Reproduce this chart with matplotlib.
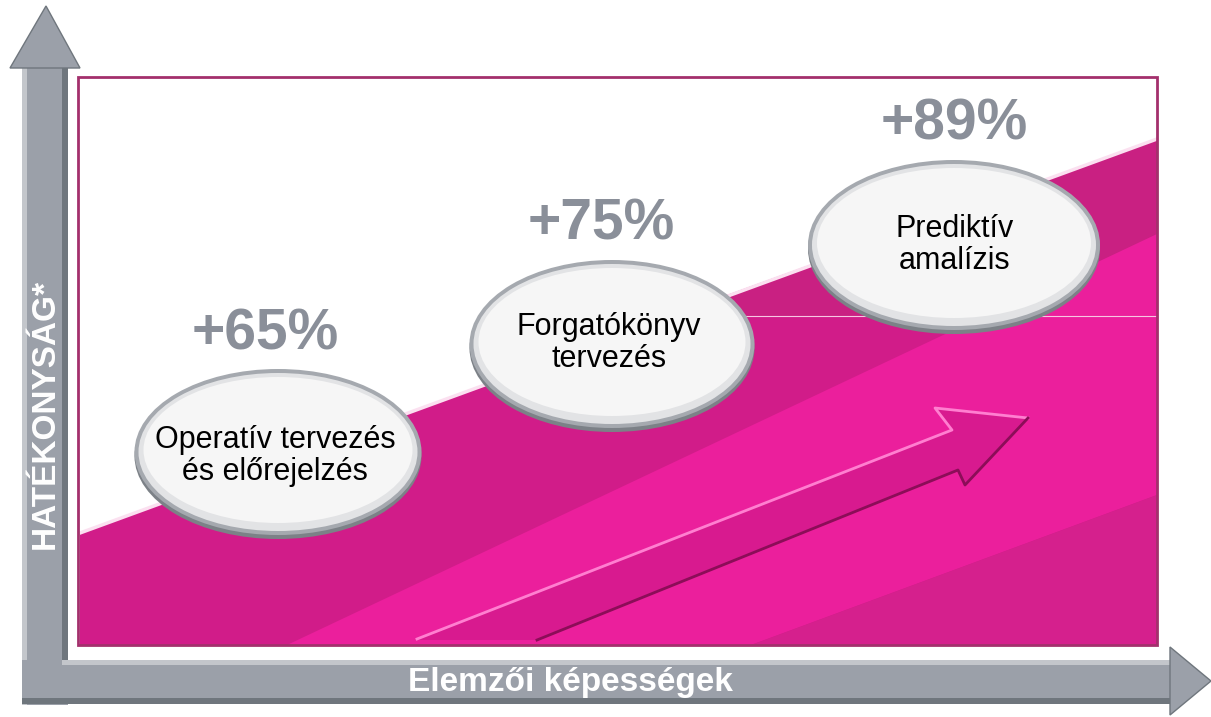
import matplotlib
matplotlib.use("Agg")
import matplotlib.pyplot as plt
from matplotlib.patches import Ellipse, Polygon, Rectangle

plt.rcParams['font.family'] = ['Liberation Sans', 'DejaVu Sans']

# chart content
stages = ["Operatív tervezés\nés előrejelzés",
          "Forgatókönyv\ntervezés",
          "Prediktív\namalízis"]
gains = [65, 75, 89]
x_title = "Elemzői képességek"
y_title = "HATÉKONYSÁG*"

# layout (pixel coordinates of the picture)
stage_x = [278, 612, 954]
stage_y = [452, 344, 245]
stage_w = [287, 285, 292]
stage_h = [166, 168, 170]
text_dx = [-3, -3, 1]
text_dy = [4, -1, 0]
gain_x = [265, 601, 954]

GRAY = '#9ba0a9'
GRAY_DARK = '#6f767d'
GRAY_LIGHT = '#c3c6cb'
PINK = '#d11c89'
PINK_UP = '#c92082'
PINK_BRIGHT = '#eb1f9c'
PINK_LOW = '#d5208d'
FRAME = '#a3306c'
LABEL_GRAY = '#8a8f99'

fig = plt.figure(figsize=(12.11, 7.17), dpi=100)
ax = fig.add_axes([0, 0, 1, 1])
ax.set_xlim(0, 1211)
ax.set_ylim(717, 0)
ax.axis('off')

# pink background under the diagonal
ax.add_patch(Polygon([(80, 533), (1157, 139), (1157, 645), (80, 645)],
                     closed=True, fc=PINK, ec='none', zorder=1))
ax.add_patch(Polygon([(669, 316), (1157, 139), (1157, 316)],
                     closed=True, fc=PINK_UP, ec='none', zorder=2))
ax.add_patch(Polygon([(287, 645), (1157, 234), (1157, 495), (751, 645)],
                     closed=True, fc=PINK_BRIGHT, ec='none', zorder=3))
ax.add_patch(Polygon([(751, 645), (1157, 495), (1157, 645)],
                     closed=True, fc=PINK_LOW, ec='none', zorder=3))
ax.plot([80, 1157], [533, 139], color='#fbe0f0', lw=2.5, zorder=4)
ax.plot([669, 1157], [316, 316], color='#f7c6e2', lw=0.8, zorder=4)

# frame
ax.add_patch(Rectangle((78, 77), 1079, 568, fill=False, ec=FRAME, lw=2, zorder=5))

# arrow inside the pink area
arrow_pts = [(417, 640), (952, 430), (935, 408), (1028, 418),
             (965, 485), (958, 470), (537, 640)]
ax.add_patch(Polygon(arrow_pts, closed=True, fc='#d81a8f', ec='none', zorder=6))
ax.plot([417, 952, 935, 1028], [639, 430, 408, 418], color='#ff7fd0', lw=2, zorder=7)
ax.plot([1028, 965, 958, 537], [418, 485, 470, 640], color='#8c0d58', lw=2, zorder=7)

# gray axis arrows
ax.add_patch(Rectangle((22, 68), 46, 637, fc=GRAY, ec='none', zorder=8))
ax.add_patch(Rectangle((22, 68), 5, 637, fc=GRAY_LIGHT, ec='none', zorder=8))
ax.add_patch(Rectangle((62, 68), 6, 592, fc=GRAY_DARK, ec='none', zorder=8))
ax.add_patch(Polygon([(10, 68), (80, 68), (46, 6)], closed=True,
                     fc=GRAY, ec=GRAY_DARK, lw=1, zorder=8))
ax.add_patch(Rectangle((22, 660), 1150, 44, fc=GRAY, ec='none', zorder=8))
ax.add_patch(Rectangle((62, 660), 1110, 5, fc=GRAY_LIGHT, ec='none', zorder=8))
ax.add_patch(Rectangle((22, 698), 1150, 6, fc=GRAY_DARK, ec='none', zorder=8))
ax.add_patch(Polygon([(1170, 647), (1170, 715), (1211, 681)], closed=True,
                     fc=GRAY, ec=GRAY_DARK, lw=1, zorder=8))

ax.text(45, 414, y_title, rotation=90, ha='center', va='center',
        color='white', fontsize=24, fontweight='bold', zorder=9)
ax.text(570, 683, x_title, ha='center', va='center',
        color='white', fontsize=24, fontweight='bold', zorder=9)

# stage bubbles
for i, label in enumerate(stages):
    cx, cy, w, h = stage_x[i], stage_y[i], stage_w[i], stage_h[i]
    ax.add_patch(Ellipse((cx, cy + 4), w, h, fc='#7c8187', ec='none', zorder=10))
    ax.add_patch(Ellipse((cx, cy), w, h, fc='#a5a9af', ec='none', zorder=11))
    ax.add_patch(Ellipse((cx, cy), w - 8, h - 8, fc='#e2e3e5', ec='none', zorder=12))
    ax.add_patch(Ellipse((cx, cy - 2), w - 18, h - 20, fc='#f6f6f6', ec='none', zorder=13))
    ax.text(cx + text_dx[i], cy + text_dy[i], label, ha='center', va='center',
            multialignment='center', fontsize=22, linespacing=1.08,
            color='black', zorder=14)
    ax.text(gain_x[i], cy - h / 2 - 20, f"+{gains[i]}%", ha='center', va='baseline',
            fontsize=41, fontweight='bold', color=LABEL_GRAY, zorder=14)

fig.savefig("out.png", dpi=100, facecolor='white')
